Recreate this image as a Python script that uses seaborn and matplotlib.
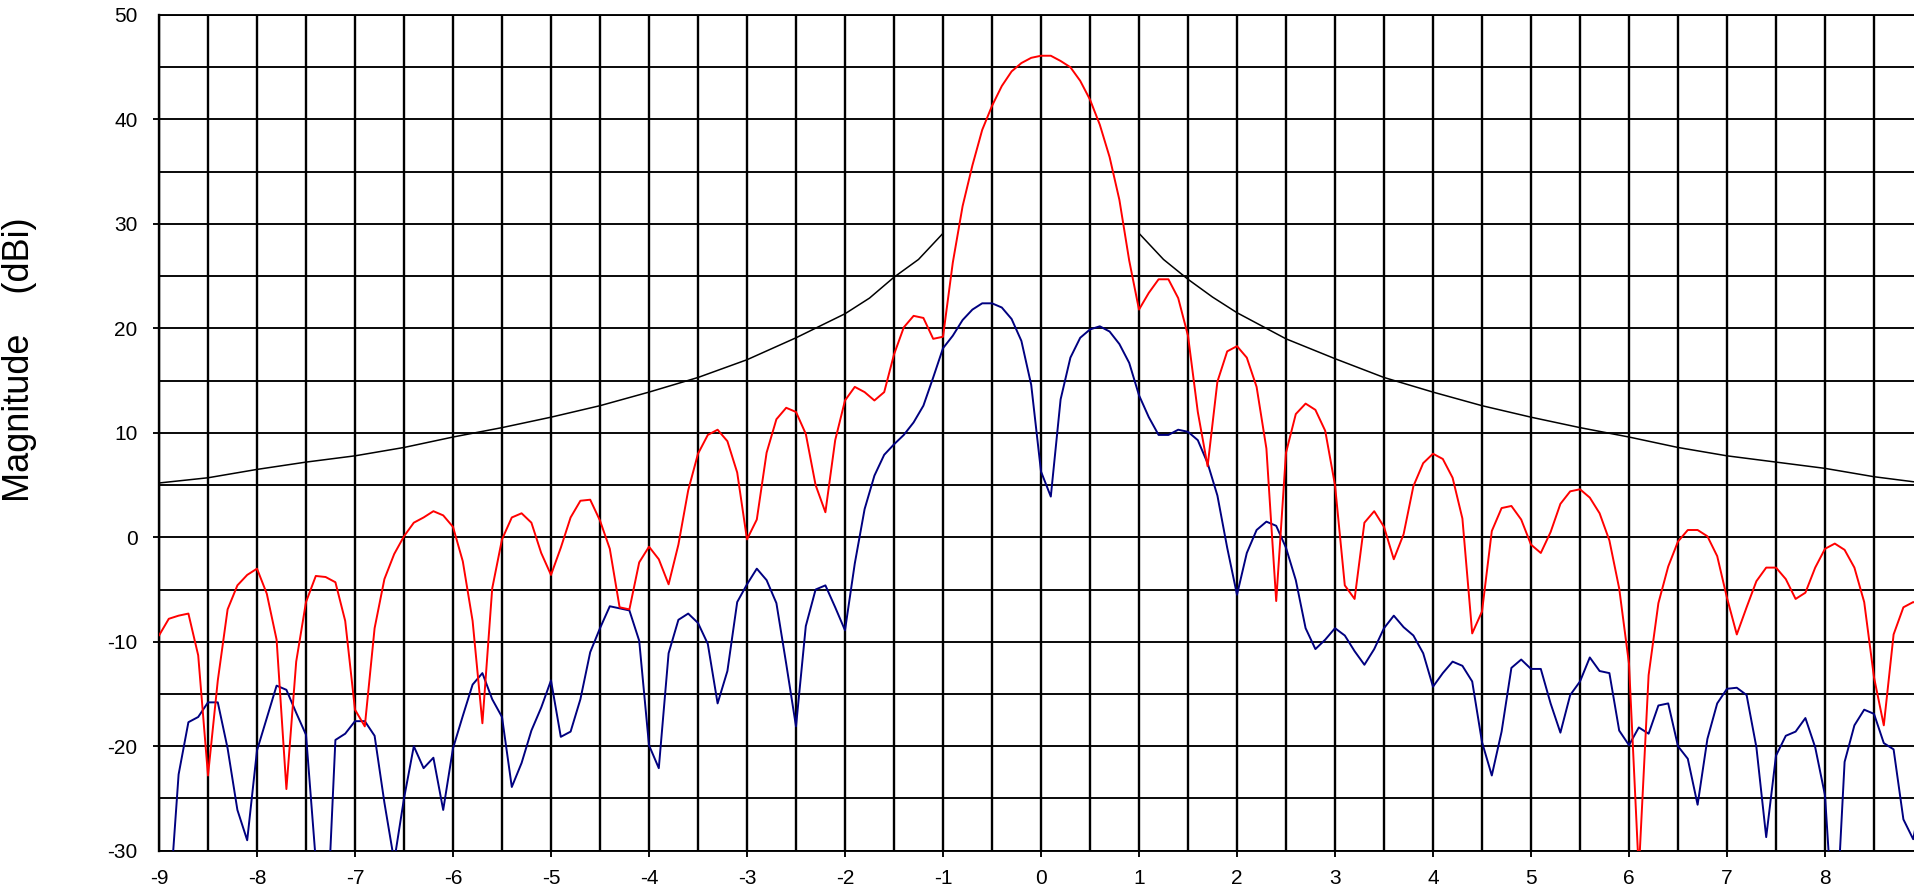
import numpy as np
import matplotlib
matplotlib.use("Agg")
import matplotlib.pyplot as plt
import seaborn as sns

# ---------------- data ----------------
angle = np.round(np.linspace(-9, 9, 181), 1)

copolar = [
    -9.4, -7.8, -7.5, -7.3, -11.3, -22.8, -13.7, -6.9, -4.6, -3.6,
    -3.0, -5.4, -9.8, -24.1, -11.9, -6.2, -3.7, -3.8, -4.3, -8.0,
    -16.5, -18.1, -8.7, -4.0, -1.6, 0.1, 1.4, 1.9, 2.5, 2.1,
    1.0, -2.3, -8.0, -17.8, -4.9, -0.2, 1.9, 2.3, 1.4, -1.5,
    -3.6, -1.0, 1.9, 3.5, 3.6, 1.6, -1.1, -6.7, -6.9, -2.4,
    -0.9, -2.1, -4.5, -0.7, 4.5, 8.0, 9.8, 10.3, 9.2, 6.2,
    -0.2, 1.7, 8.1, 11.3, 12.4, 12.0, 9.9, 5.0, 2.4, 9.3,
    13.1, 14.4, 13.9, 13.1, 13.9, 17.5, 20.1, 21.2, 21.0, 19.0,
    19.2, 26.3, 31.7, 35.6, 39.0, 41.3, 43.2, 44.6, 45.4, 45.9,
    46.1, 46.1, 45.6, 45.0, 43.7, 41.9, 39.5, 36.4, 32.3, 26.5,
    21.8, 23.4, 24.7, 24.7, 22.9, 19.3, 12.0, 6.8, 14.9, 17.8,
    18.3, 17.2, 14.4, 8.5, -6.1, 8.1, 11.8, 12.8, 12.2, 10.2,
    5.0, -4.6, -5.9, 1.4, 2.5, 1.0, -2.1, 0.3, 4.9, 7.1,
    8.0, 7.5, 5.7, 1.8, -9.2, -7.1, 0.6, 2.8, 3.0, 1.7,
    -0.7, -1.5, 0.5, 3.2, 4.4, 4.6, 3.8, 2.3, -0.3, -4.9,
    -12.1, -32.0, -13.2, -6.3, -2.8, -0.4, 0.7, 0.7, 0.1, -1.8,
    -5.8, -9.3, -6.7, -4.2, -2.9, -2.9, -4.0, -5.9, -5.3, -2.9,
    -1.1, -0.6, -1.2, -2.9, -6.2, -13.4, -18.0, -9.3, -6.7, -6.2,
    -6.5,
]

crosspolar = [
    -38.0, -36.0, -22.7, -17.7, -17.2, -15.8, -15.8, -20.2, -26.1, -29.0,
    -20.4, -17.3, -14.2, -14.6, -16.8, -18.9, -31.0, -40.0, -19.4, -18.8,
    -17.6, -17.6, -19.0, -25.4, -31.0, -25.0, -20.0, -22.1, -21.1, -26.1,
    -20.2, -17.1, -14.1, -13.0, -15.5, -17.2, -23.9, -21.6, -18.5, -16.3,
    -13.7, -19.1, -18.6, -15.5, -11.0, -8.7, -6.6, -6.8, -7.0, -9.9,
    -19.9, -22.1, -11.1, -7.9, -7.3, -8.2, -10.2, -15.9, -12.8, -6.2,
    -4.5, -3.0, -4.1, -6.3, -12.1, -18.1, -8.5, -5.0, -4.6, -6.7,
    -8.9, -2.5, 2.7, 5.9, 7.9, 8.9, 9.8, 11.0, 12.6, 15.3,
    18.1, 19.3, 20.8, 21.8, 22.4, 22.4, 22.0, 20.9, 18.8, 14.6,
    6.3, 3.9, 13.2, 17.2, 19.1, 19.9, 20.2, 19.7, 18.5, 16.7,
    13.6, 11.5, 9.8, 9.8, 10.3, 10.1, 9.3, 7.1, 4.0, -1.0,
    -5.5, -1.5, 0.7, 1.5, 1.1, -1.0, -4.1, -8.7, -10.7, -9.8,
    -8.7, -9.4, -10.9, -12.2, -10.7, -8.7, -7.5, -8.6, -9.4, -11.1,
    -14.3, -13.0, -11.9, -12.3, -13.8, -19.6, -22.8, -18.6, -12.5, -11.7,
    -12.6, -12.6, -15.9, -18.7, -15.1, -13.8, -11.5, -12.8, -13.0, -18.5,
    -19.9, -18.2, -18.8, -16.1, -15.9, -20.0, -21.2, -25.6, -19.3, -15.9,
    -14.5, -14.4, -15.1, -20.1, -28.7, -20.9, -19.0, -18.6, -17.3, -20.1,
    -24.7, -39.5, -21.5, -18.0, -16.5, -16.9, -19.7, -20.3, -27.0, -28.9,
    -24.0,
]

mask_left_angle = [-9, -8.5, -8, -7.5, -7, -6.5, -6, -5.5, -5, -4.5, -4,
                   -3.5, -3, -2.5, -2, -1.75, -1.5, -1.25, -1]
mask_left_gain = [5.2, 5.7, 6.5, 7.2, 7.8, 8.6, 9.6, 10.5, 11.5, 12.6, 13.9,
                  15.3, 17.0, 19.1, 21.4, 22.9, 24.9, 26.6, 29.1]
mask_right_angle = [1, 1.25, 1.5, 1.75, 2, 2.5, 3, 3.5, 4, 4.5, 5, 5.5, 6,
                    6.5, 7, 7.5, 8, 8.5, 9]
mask_right_gain = [29.1, 26.6, 24.7, 23.0, 21.5, 19.0, 17.1, 15.3, 13.9, 12.6,
                   11.5, 10.5, 9.6, 8.6, 7.8, 7.2, 6.6, 5.8, 5.2]

x_ticks = list(range(-9, 10))
y_ticks = list(range(-30, 51, 10))
y_label = "Magnitude    (dBi)"

# ---------------- style ----------------
sns.set_theme(style="white")
plt.rcParams['font.family'] = ['Liberation Sans', 'DejaVu Sans']
plt.rcParams['axes.unicode_minus'] = False

W, H = 1915, 884
fig = plt.figure(figsize=(W / 100, H / 100), dpi=100)
fig.patch.set_facecolor("white")
left_px, right_px, top_px, bottom_px = 159, 1923, 15, 850.7
ax = fig.add_axes([left_px / W, (H - bottom_px) / H,
                   (right_px - left_px) / W, (bottom_px - top_px) / H])
ax.set_facecolor("white")

sns.lineplot(x=mask_left_angle, y=mask_left_gain, ax=ax, color="black",
             linewidth=1.1, zorder=3)
sns.lineplot(x=mask_right_angle, y=mask_right_gain, ax=ax, color="black",
             linewidth=1.1, zorder=3)
sns.lineplot(x=angle, y=crosspolar, ax=ax, color="#000080",
             linewidth=1.4, zorder=4)
sns.lineplot(x=angle, y=copolar, ax=ax, color="#FF0000",
             linewidth=1.4, zorder=5)

ax.set_xlim(-9, 9)
ax.set_ylim(-30, 50)
ax.set_xticks(x_ticks)
ax.set_xticklabels([str(t) for t in x_ticks])
ax.set_xticks(np.arange(-9, 9.01, 0.5), minor=True)
ax.set_yticks(y_ticks)
ax.set_yticklabels([str(t) for t in y_ticks])
ax.set_yticks(np.arange(-30, 50.1, 5), minor=True)

ax.set_axisbelow(True)
ax.xaxis.grid(True, which="both", color="black", linewidth=1.7)
ax.yaxis.grid(True, which="both", color="black", linewidth=1.35)
ax.tick_params(axis="both", which="major", direction="out", length=4.5,
               width=1.35, color="black", labelsize=15, labelcolor="black",
               bottom=True, left=True)
ax.tick_params(axis="y", which="major", pad=11)
ax.tick_params(axis="x", which="major", pad=8.5)
ax.tick_params(axis="both", which="minor", length=0)
for t in (ax.yaxis.get_major_ticks()[0], ax.yaxis.get_major_ticks()[-1],
          ax.xaxis.get_major_ticks()[0]):
    t.tick1line.set_visible(False)

for name, sp in ax.spines.items():
    sp.set_color("black")
    sp.set_linewidth(1.7 if name in ("left", "right") else 1.35)

ax.set_xlabel("")
ax.set_ylabel(y_label, fontsize=26, color="black")
ax.yaxis.set_label_coords(-0.069, 0.587)

fig.savefig("out.png", dpi=100, facecolor="white")
